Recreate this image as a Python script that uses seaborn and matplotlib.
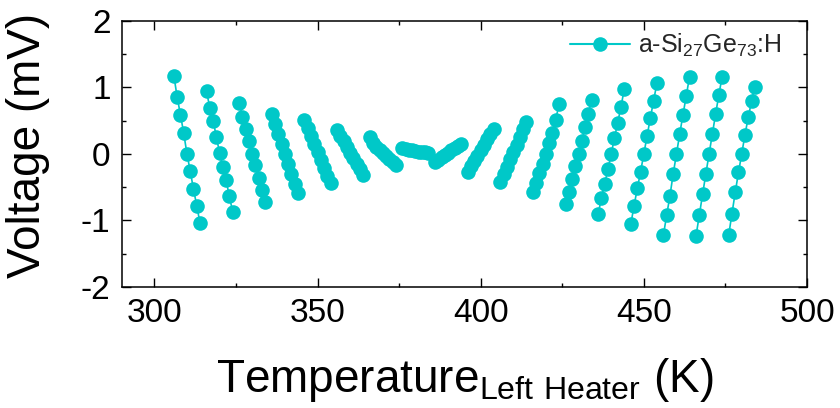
import numpy as np
import pandas as pd
import matplotlib
matplotlib.use("Agg")
import matplotlib.pyplot as plt
import seaborn as sns
from matplotlib.lines import Line2D
from matplotlib.ticker import MultipleLocator

# Heater temperature (K) for each sweep, one sweep per list
temperature_sweeps = [
    [306, 307, 308, 309, 310, 311, 312, 313, 314],
    [316, 317, 318, 319, 320, 321, 322, 323, 324],
    [326, 327, 328, 329, 330, 331, 332, 333, 334],
    [336, 337, 338, 339, 340, 341, 342, 343, 344],
    [346, 347, 348, 349, 350, 351, 352, 353, 354],
    [356, 357, 358, 359, 360, 361, 362, 363, 364],
    [366, 367, 368, 369, 370, 371, 372, 373, 374],
    [376, 377, 378, 379, 380, 381, 382, 383, 384],
    [386, 387, 388, 389, 390, 391, 392, 393, 394],
    [396, 397, 398, 399, 400, 401, 402, 403, 404],
    [406, 407, 408, 409, 410, 411, 412, 413, 414],
    [416, 417, 418, 419, 420, 421, 422, 423, 424],
    [426, 427, 428, 429, 430, 431, 432, 433, 434],
    [436, 437, 438, 439, 440, 441, 442, 443, 444],
    [446, 447, 448, 449, 450, 451, 452, 453, 454],
    [456, 457, 458, 459, 460, 461, 462, 463, 464],
    [466, 467, 468, 469, 470, 471, 472, 473, 474],
    [476, 477, 478, 479, 480, 481, 482, 483, 484],
]

# Measured thermovoltage (mV) for each sweep
voltage_sweeps = [
    [1.17, 0.85, 0.59, 0.31, 0.00, -0.26, -0.53, -0.78, -1.04],
    [0.94, 0.69, 0.50, 0.26, 0.01, -0.20, -0.40, -0.64, -0.87],
    [0.77, 0.56, 0.38, 0.20, 0.00, -0.17, -0.36, -0.54, -0.73],
    [0.60, 0.45, 0.30, 0.15, 0.00, -0.15, -0.30, -0.45, -0.59],
    [0.51, 0.39, 0.27, 0.15, 0.03, -0.09, -0.21, -0.33, -0.44],
    [0.36, 0.27, 0.19, 0.11, 0.02, -0.06, -0.15, -0.23, -0.32],
    [0.25, 0.17, 0.11, 0.06, 0.02, -0.03, -0.08, -0.12, -0.17],
    [0.085, 0.075, 0.065, 0.055, 0.045, 0.035, 0.025, 0.03, 0.01],
    [-0.12, -0.085, -0.05, -0.015, 0.02, 0.055, 0.09, 0.12, 0.15],
    [-0.27, -0.19, -0.11, -0.03, 0.06, 0.14, 0.22, 0.30, 0.38],
    [-0.42, -0.31, -0.20, -0.08, 0.03, 0.14, 0.25, 0.37, 0.48],
    [-0.58, -0.44, -0.29, -0.15, 0.00, 0.16, 0.32, 0.51, 0.75],
    [-0.75, -0.57, -0.38, -0.19, 0.00, 0.20, 0.40, 0.60, 0.81],
    [-0.90, -0.67, -0.45, -0.23, 0.00, 0.24, 0.47, 0.71, 0.97],
    [-1.06, -0.78, -0.52, -0.27, 0.00, 0.27, 0.54, 0.80, 1.06],
    [-1.22, -0.92, -0.63, -0.30, 0.00, 0.30, 0.59, 0.87, 1.16],
    [-1.23, -0.92, -0.61, -0.30, 0.00, 0.30, 0.60, 0.89, 1.16],
    [-1.22, -0.90, -0.58, -0.28, 0.00, 0.29, 0.55, 0.79, 1.01],
]

sample_label = "a-Si$_{27}$Ge$_{73}$:H"
x_ticks = [300, 350, 400, 450, 500]
y_ticks = [-2, -1, 0, 1, 2]

COLOR = "#00C8C8"

rows = []
for i, (ts, vs) in enumerate(zip(temperature_sweeps, voltage_sweeps)):
    for t, v in zip(ts, vs):
        rows.append({"sweep": i, "T": t, "V": v})
df = pd.DataFrame(rows)

sns.set_theme(style="ticks")
plt.rcParams["font.family"] = ["Liberation Sans", "DejaVu Sans"]
plt.rcParams["mathtext.default"] = "regular"
plt.rcParams["axes.unicode_minus"] = False

fig = plt.figure(figsize=(8.4, 4.08), dpi=100)
ax = fig.add_axes([121.7 / 840, 121 / 408, 685.3 / 840, 266.3 / 408])

sns.lineplot(
    data=df, x="T", y="V", units="sweep", estimator=None, sort=False,
    color=COLOR, marker="o", markersize=10.5, markeredgewidth=0,
    linewidth=1.2, legend=False, ax=ax,
)

ax.set_xlim(290, 500)
ax.set_ylim(-2, 2)
ax.set_xticks(x_ticks)
ax.set_yticks(y_ticks)
ax.xaxis.set_minor_locator(MultipleLocator(25))
ax.yaxis.set_minor_locator(MultipleLocator(0.5))

for s in ax.spines.values():
    s.set_linewidth(1.1)
    s.set_color("black")

ax.tick_params(which="both", direction="in", top=True, right=True,
               width=1.0, color="black")
ax.tick_params(which="major", length=6.5, labelsize=24, pad=8,
               labelcolor="black")
ax.tick_params(which="minor", length=3)

ax.set_xlabel(r"Temperature$_{Left\ Heater}$ (K)", fontsize=33, color="black")
ax.xaxis.label.set_ha("left")
ax.xaxis.label.set_va("baseline")
ax.xaxis.set_label_coords((216 - 121.7) / 685.3, (16.3 - 121) / 266.3)

ax.set_ylabel("Voltage (mV)", fontsize=33, color="black")
ax.yaxis.set_label_coords((50 - 121.7) / 685.3, (287 - 145) / 266.3)

handle = Line2D([], [], color=COLOR, marker="o", markersize=10.5,
                markeredgewidth=0, linewidth=1.5)
ax.legend([handle], [sample_label], loc="center left",
          bbox_to_anchor=((570 - 121.7) / 685.3, (287 - 45) / 266.3),
          frameon=False, fontsize=18, handlelength=2.4, handletextpad=0.3,
          borderpad=0, borderaxespad=0)

fig.savefig("out.png", dpi=100)
